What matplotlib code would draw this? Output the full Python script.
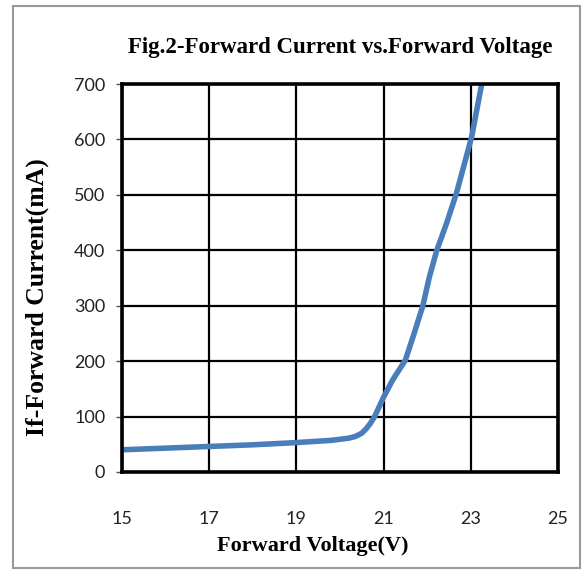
import matplotlib
matplotlib.use("Agg")
import matplotlib.pyplot as plt
from matplotlib.patches import Rectangle

# Forward voltage (V) and forward current (mA)
voltage = [15.0, 16.0, 17.0, 18.0, 19.0, 19.8, 20.2, 20.35, 20.5, 20.6, 20.7, 20.8, 20.9,
           21.0, 21.2, 21.5, 21.7, 21.9, 22.05, 22.22, 22.45, 22.67, 22.85, 23.02, 23.25]
current = [40, 43, 46, 49, 53, 57, 61, 64, 70, 78, 88, 101, 118,
           135, 165, 202, 250, 300, 352, 400, 450, 503, 555, 605, 700]

x_ticks = [15, 17, 19, 21, 23, 25]
y_ticks = [0, 100, 200, 300, 400, 500, 600, 700]

fig = plt.figure(figsize=(5.88, 5.70), dpi=100)
ax = fig.add_axes([0.2075, 0.172, 0.7415, 0.6806])

ax.plot(voltage, current, color="#4a7ebb", linewidth=4, solid_capstyle="round",
        solid_joinstyle="round")

ax.set_xlim(15, 25)
ax.set_ylim(0, 700)
ax.set_xticks(x_ticks)
ax.set_yticks(y_ticks)
ax.grid(True, color="black", linewidth=1.6)
for s in ax.spines.values():
    s.set_linewidth(2.6)
    s.set_color("black")

ax.tick_params(axis="x", length=0, pad=28, labelsize=13, labelcolor="#222222")
ax.tick_params(axis="y", length=4, width=1, color="#555555", pad=8, labelsize=13,
               labelcolor="#222222")
for lab in ax.get_xticklabels() + ax.get_yticklabels():
    lab.set_fontfamily("Lato")

ax.set_title("Fig.2-Forward Current vs.Forward Voltage", family="Liberation Serif",
             fontweight="bold", fontsize=16.5, pad=22)
ax.set_xlabel("Forward Voltage(V)", family="Liberation Serif", fontweight="bold",
              fontsize=16)
ax.set_ylabel("If-Forward Current(mA)", family="Liberation Serif", fontweight="bold",
              fontsize=18.5)
ax.xaxis.set_label_coords(0.438, -0.165)
ax.yaxis.set_label_coords(-0.168, 0.45)

# grey frame around the whole chart
fig.patches.append(Rectangle((0.022, 0.004), 0.965, 0.985, transform=fig.transFigure,
                             fill=False, edgecolor="#999999", linewidth=1.5))

fig.savefig("out.png", dpi=100)
